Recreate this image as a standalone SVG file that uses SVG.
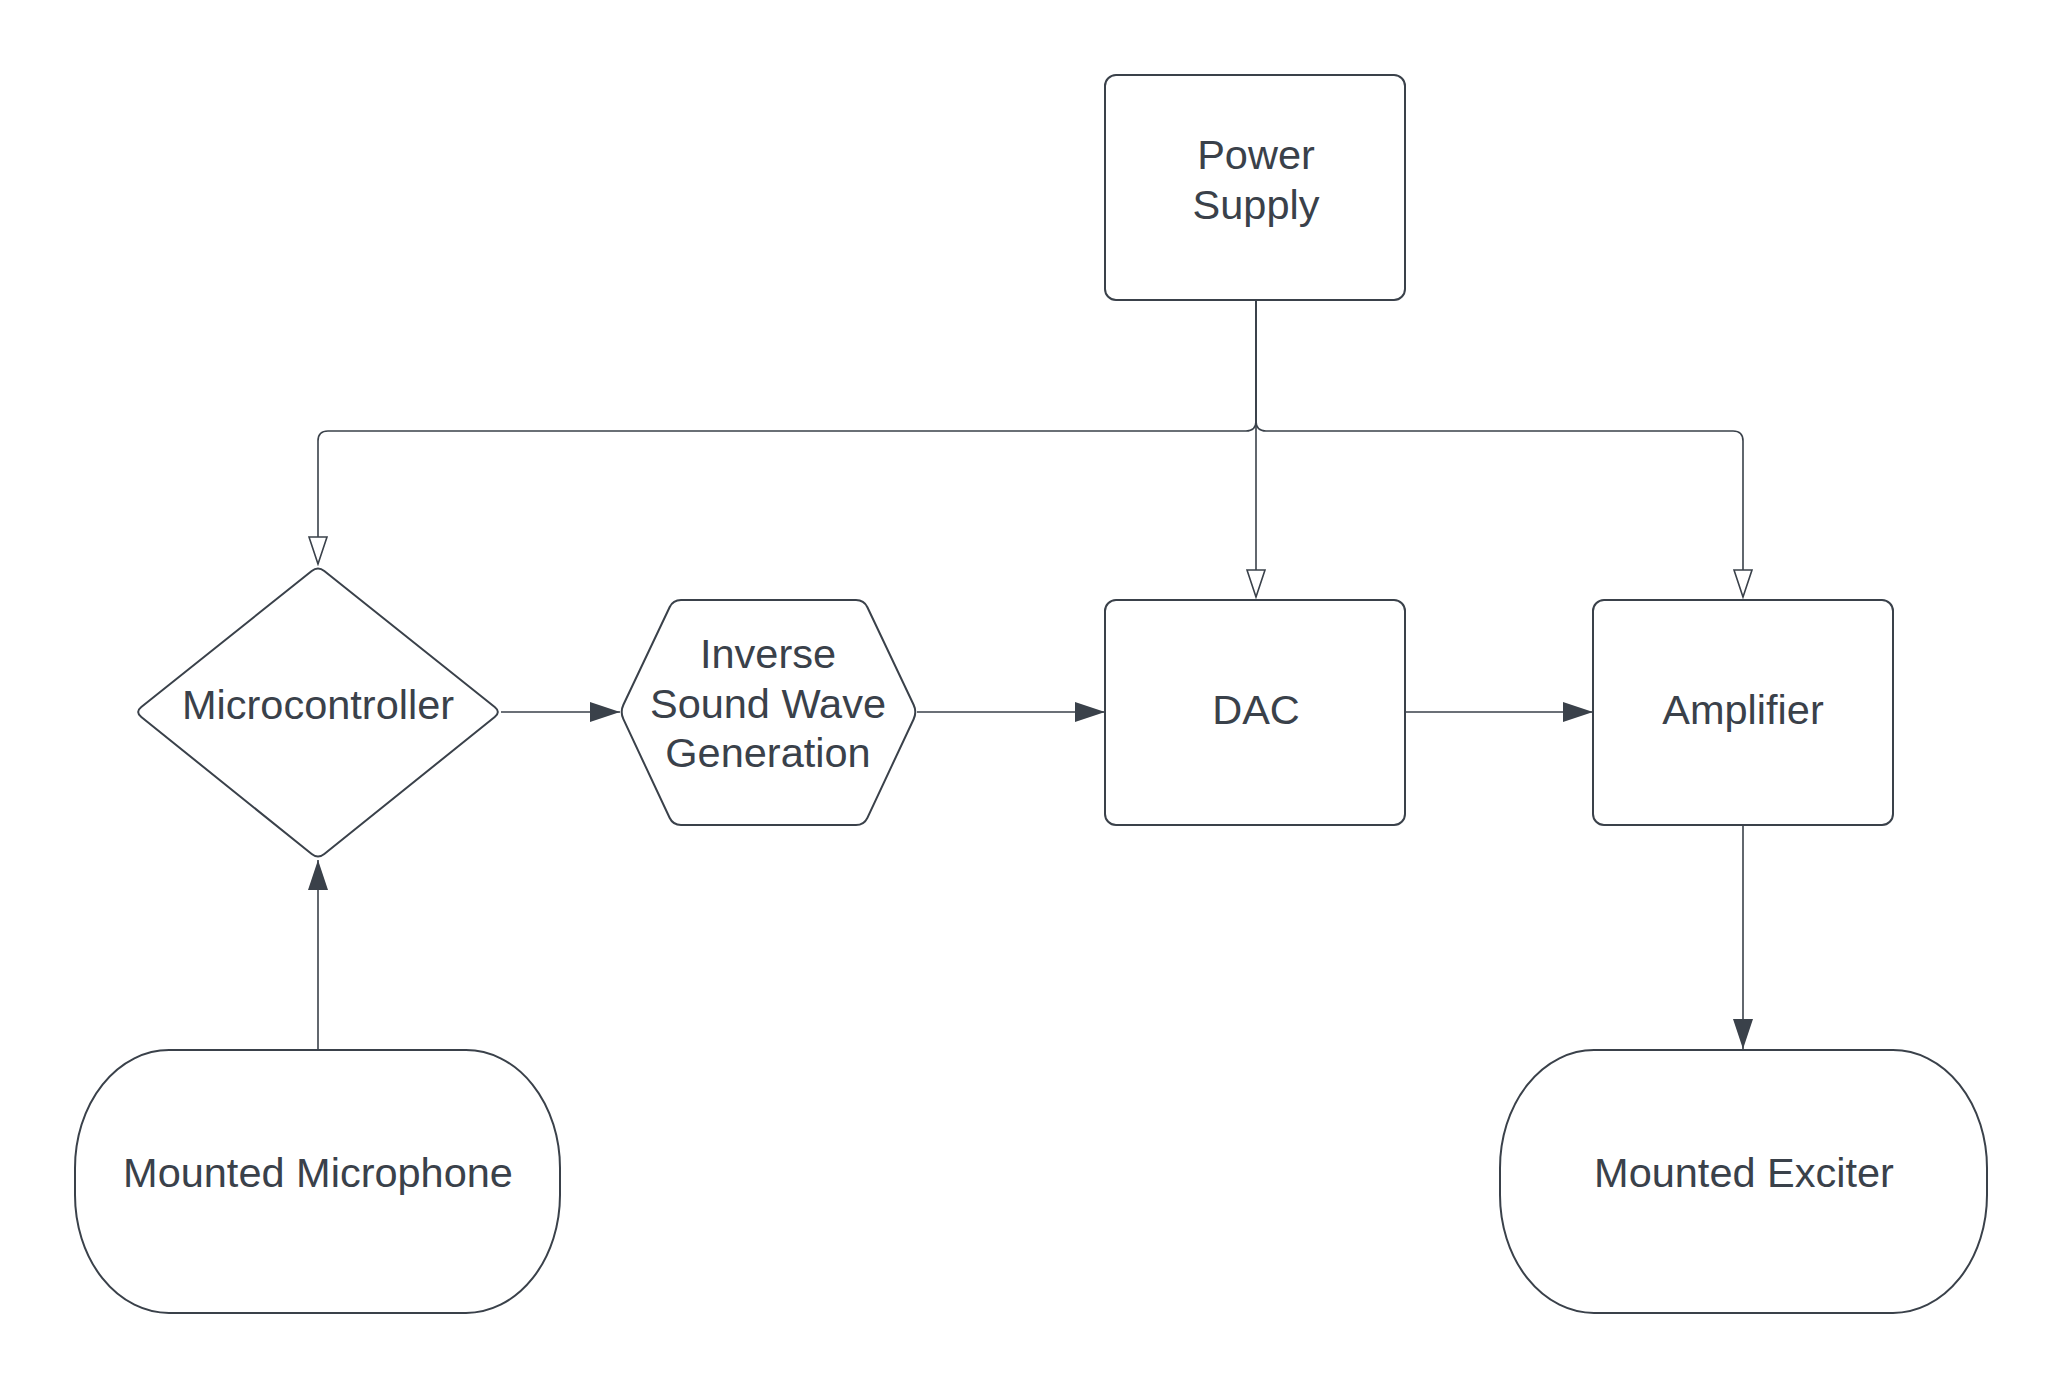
<svg xmlns="http://www.w3.org/2000/svg" width="2063" height="1388" viewBox="0 0 2063 1388">
<style>
.node{fill:#ffffff;stroke:#3a414a;stroke-width:2;stroke-linejoin:round}
.lbl{font-family:"Liberation Sans",Arial,sans-serif;font-size:41.5px;fill:#3a414a;text-anchor:middle}
.conn{fill:none;stroke:#3a414a;stroke-width:1.6}
</style>
<defs>
<marker id="filled" viewBox="0 0 30 20" refX="30" refY="10" markerWidth="30" markerHeight="20" markerUnits="userSpaceOnUse" orient="auto">
<path d="M0,0 L30,10 L0,20 z" fill="#3a414a"/>
</marker>
<marker id="hollow" viewBox="0 0 30 20" refX="28" refY="10" markerWidth="30" markerHeight="20" markerUnits="userSpaceOnUse" orient="auto">
<path d="M1,1 L28,10 L1,19 z" fill="#ffffff" stroke="#3a414a" stroke-width="1.6" stroke-linejoin="miter"/>
</marker>
</defs>
<rect width="2063" height="1388" fill="#ffffff"/>
<g id="connectors">
<path class="conn" d="M1256,300 V421 Q1256,431 1246,431 H328 Q318,431 318,441 V564" marker-end="url(#hollow)"/>
<path class="conn" d="M1256,300 V597" marker-end="url(#hollow)"/>
<path class="conn" d="M1256,300 V421 Q1256,431 1266,431 H1733 Q1743,431 1743,441 V597" marker-end="url(#hollow)"/>
<path class="conn" d="M501,712 H620" marker-end="url(#filled)"/>
<path class="conn" d="M917,712 H1105" marker-end="url(#filled)"/>
<path class="conn" d="M1405,712 H1593" marker-end="url(#filled)"/>
<path class="conn" d="M1743,825 V1049" marker-end="url(#filled)"/>
<path class="conn" d="M318,1050 V860" marker-end="url(#filled)"/>
</g>
<g id="power-supply">
<rect class="node" x="1105" y="75" width="300" height="225" rx="11"/>
<text class="lbl" x="1256" y="169">Power</text>
<text class="lbl" x="1256" y="219">Supply</text>
</g>
<g id="microcontroller">
<path class="node" d="M311.7,571 Q318,566 324.3,571 L494.7,707 Q501,712 494.7,717 L324.3,854 Q318,859 311.7,854 L141.3,717 Q135,712 141.3,707 Z"/>
<text class="lbl" x="318" y="719">Microcontroller</text>
</g>
<g id="inverse-sound-wave">
<path class="node" d="M681,600 H856 Q864,600 867.4,607.2 L913.6,704.8 Q917,712 913.6,719.2 L867.4,817.8 Q864,825 856,825 H681 Q673,825 669.6,817.8 L623.4,719.2 Q620,712 623.4,704.8 L669.6,607.2 Q673,600 681,600 Z"/>
<text class="lbl" x="768" y="668">Inverse</text>
<text class="lbl" x="768" y="718">Sound Wave</text>
<text class="lbl" x="768" y="767">Generation</text>
</g>
<g id="dac">
<rect class="node" x="1105" y="600" width="300" height="225" rx="11"/>
<text class="lbl" x="1256" y="724">DAC</text>
</g>
<g id="amplifier">
<rect class="node" x="1593" y="600" width="300" height="225" rx="11"/>
<text class="lbl" x="1743" y="724">Amplifier</text>
</g>
<g id="mounted-microphone">
<rect class="node" x="75" y="1050" width="485" height="263" rx="94" ry="118"/>
<text class="lbl" x="318" y="1187">Mounted Microphone</text>
</g>
<g id="mounted-exciter">
<rect class="node" x="1500" y="1050" width="487" height="263" rx="94" ry="118"/>
<text class="lbl" x="1744" y="1187">Mounted Exciter</text>
</g>
</svg>
